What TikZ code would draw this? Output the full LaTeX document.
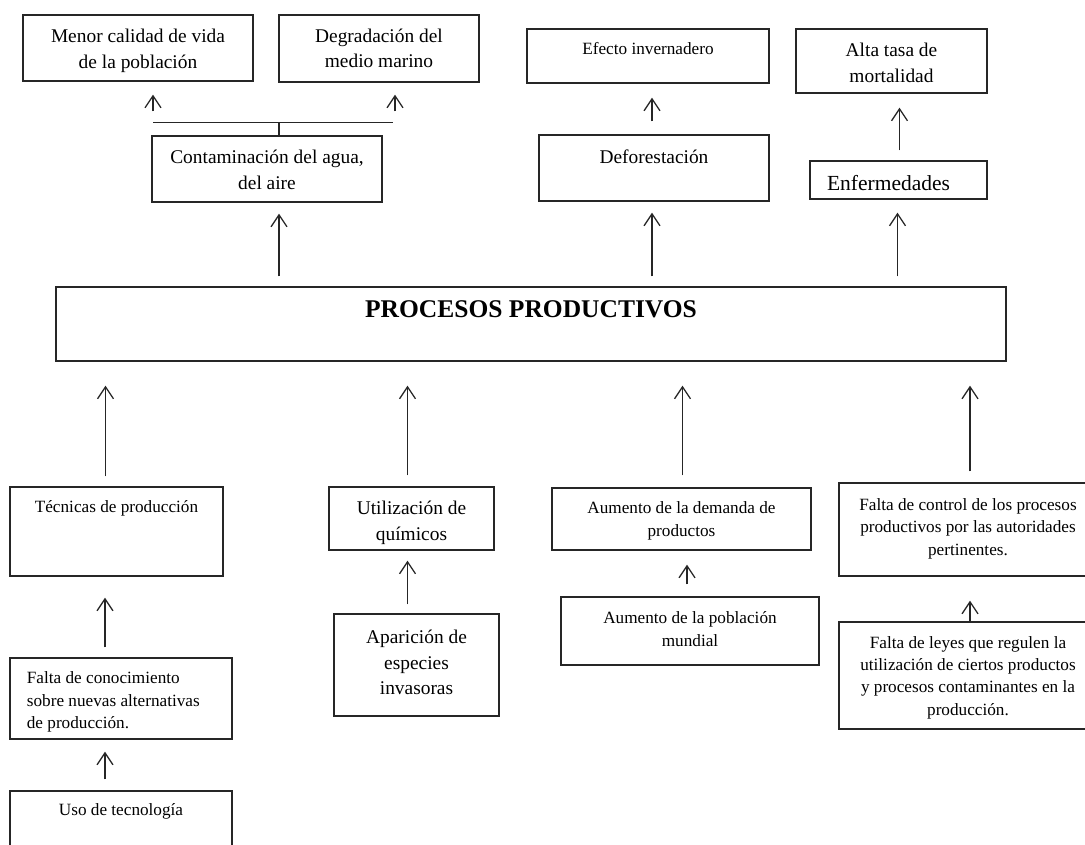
\documentclass[tikz,border=0pt]{standalone}
\usepackage{fontspec}
\setmainfont{Liberation Serif}
\usetikzlibrary{arrows.meta,fit,positioning}

\begin{document}
\begin{tikzpicture}[x=1pt,y=-1pt,
    caja/.style={draw=black!85,line width=1.3pt,inner sep=0pt},
    chica/.style={font=\fontsize{17.2}{22.4}\selectfont,align=center},
    grande/.style={font=\fontsize{19.4}{25.5}\selectfont,align=center},
    flecha/.style={draw=black!85,line width=1.3pt,-{Straight Barb[length=12pt,width=16pt]}},
    linea/.style={draw=black!85,line width=1.3pt}]
\useasboundingbox (0,0) rectangle (1085,844);
\clip (0,0) rectangle (1085,844);

% efectos
\node[caja,fit={(23,15) (253,81)}] (menor) {};
\node[grande] (menorT) at ([yshift=-3pt]menor.center) {Menor calidad de vida\\de la población};
\node[caja,fit={(279,15) (479,82)}] (degrad) {};
\node[grande] (degradT) at (degrad.center) {Degradación del\\medio marino};
\node[caja,fit={(152,136) (382,202)}] (cont) {};
\node[grande] (contT) at ([yshift=-1pt]cont.center) {Contaminación del agua,\\del aire};
\node[caja,fit={(527,29) (769,83)}] (efecto) {};
\node[chica] (efectoT) at ([yshift=-20pt]efecto.north) {Efecto invernadero};
\node[caja,fit={(539,135) (769,201)}] (defor) {};
\node[grande] (deforT) at ([yshift=-22pt]defor.north) {Deforestación};
\node[caja,fit={(796,29) (987,93)}] (alta) {};
\node[grande] (altaT) at ([yshift=-2pt]alta.center) {Alta tasa de\\mortalidad};
\node[caja,fit={(810,161) (987,199)}] (enferm) {};
\node[font=\fontsize{21.5}{26}\selectfont] (enfermT) at ([xshift=-10pt,yshift=-3pt]enferm.center) {Enfermedades};

% problema central
\node[caja,fit={(56,287) (1006,361)}] (procesos) {};
\node[font=\fontsize{25.5}{30}\selectfont\bfseries] (procesosT) at ([yshift=-23pt]procesos.north) {PROCESOS PRODUCTIVOS};

% causas
\node[caja,fit={(10,487) (223,576)}] (tecnicas) {};
\node[chica] (tecnicasT) at ([yshift=-22pt]tecnicas.north) {Técnicas de producción};
\node[caja,fit={(10,658) (232,739)}] (conoc) {};
\node[chica,align=left,anchor=west] (conocT) at ([xshift=14pt,yshift=-3.5pt]conoc.west) {Falta de conocimiento\\sobre nuevas alternativas\\de producción.};
\node[caja,fit={(10,791) (232,880)}] (uso) {};
\node[chica] (usoT) at ([yshift=-21pt]uso.north) {Uso de tecnología};
\node[caja,fit={(329,487) (494,550)}] (util) {};
\node[grande] (utilT) at ([yshift=-4.5pt]util.center) {Utilización de\\químicos};
\node[caja,fit={(334,614) (499,716)}] (apar) {};
\node[grande] (aparT) at ([yshift=2.5pt]apar.center) {Aparición de\\especies\\invasoras};
\node[caja,fit={(552,488) (811,550)}] (demanda) {};
\node[chica] (demandaT) at ([yshift=-2pt]demanda.center) {Aumento de la demanda de\\productos};
\node[caja,fit={(561,597) (819,665)}] (poblacion) {};
\node[chica] (poblacionT) at ([yshift=2pt]poblacion.center) {Aumento de la población\\mundial};
\node[caja,fit={(839,483) (1097,576)}] (control) {};
\node[chica] (controlT) at ([yshift=1pt]control.center) {Falta de control de los procesos\\productivos por las autoridades\\pertinentes.};
\node[caja,fit={(839,622) (1097,729)}] (leyes) {};
\node[chica] (leyesT) at ([yshift=-2pt]leyes.center) {Falta de leyes que regulen la\\utilización de ciertos productos\\y procesos contaminantes en la\\producción.};

% flechas hacia arriba
\draw[flecha,shorten <=10pt,shorten >=11pt] ([xshift=12pt]cont.south |- procesos.north) -- ([xshift=12pt]cont.south);
\draw[flecha,shorten <=10pt,shorten >=11pt] ([xshift=-2pt]defor.south |- procesos.north) -- ([xshift=-2pt]defor.south);
\draw[flecha,shorten <=10pt,shorten >=13pt] ([xshift=-1pt]enferm.south |- procesos.north) -- ([xshift=-1pt]enferm.south);
\draw[flecha,shorten <=13pt,shorten >=14pt] ([xshift=-2pt]defor.north) -- ([xshift=-2pt]defor.north |- efecto.south);
\draw[flecha,shorten <=10pt,shorten >=14pt] ([xshift=1pt]enferm.north) -- ([xshift=1pt]enferm.north |- alta.south);
\draw[linea] ([xshift=12pt]cont.north) -- ++(0,-13) coordinate (rama);
\draw[linea] ([xshift=15pt]rama -| menor.south) -- ([xshift=14pt]rama -| degrad.south);
\draw[flecha,shorten <=11pt,shorten >=13pt] ([xshift=15pt]rama -| menor.south) -- ([xshift=15pt]menor.south);
\draw[flecha,shorten <=11pt,shorten >=12pt] ([xshift=16pt]rama -| degrad.south) -- ([xshift=16pt]degrad.south);

\draw[flecha,shorten <=10pt,shorten >=24pt] ([xshift=-11pt]tecnicas.north) -- ([xshift=-11pt]tecnicas.north |- procesos.south);
\draw[flecha,shorten <=11pt,shorten >=24pt] ([xshift=-4pt]util.north) -- ([xshift=-4pt]util.north |- procesos.south);
\draw[flecha,shorten <=12pt,shorten >=24pt] ([xshift=1pt]demanda.north) -- ([xshift=1pt]demanda.north |- procesos.south);
\draw[flecha,shorten <=11pt,shorten >=24pt] ([xshift=2pt]control.north) -- ([xshift=2pt]control.north |- procesos.south);
\draw[flecha,shorten <=10pt,shorten >=21pt] ([xshift=-16pt]conoc.north) -- ([xshift=-16pt]conoc.north |- tecnicas.south);
\draw[flecha,shorten <=11pt,shorten >=12pt] ([xshift=-16pt]uso.north) -- ([xshift=-16pt]uso.north |- conoc.south);
\draw[flecha,shorten <=9pt,shorten >=10pt] ([xshift=-9pt]apar.north) -- ([xshift=-9pt]apar.north |- util.south);
\draw[flecha,shorten <=12pt,shorten >=14pt] ([xshift=-3pt]poblacion.north) -- ([xshift=-3pt]poblacion.north |- demanda.south);
\draw[flecha,shorten >=24pt] ([xshift=2pt]leyes.north) -- ([xshift=2pt]leyes.north |- control.south);
\end{tikzpicture}
\end{document}
